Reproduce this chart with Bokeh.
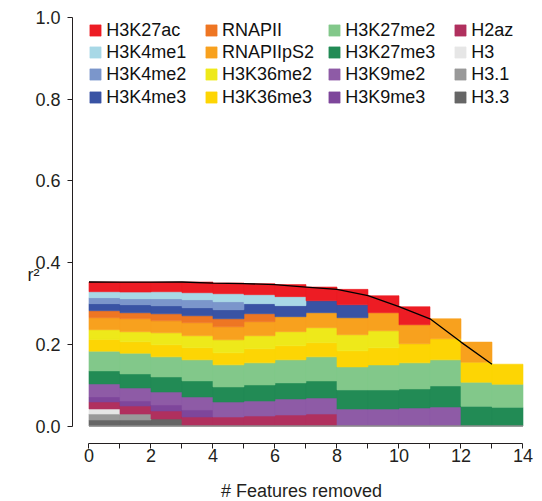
import numpy as np
from bokeh.plotting import figure
from bokeh.models import (ColumnDataSource, Legend, LegendItem, FixedTicker,
                          PrintfTickFormatter, Range1d)
from bokeh.embed import file_html
from bokeh.resources import INLINE

# ---------------- data ----------------
features_removed = list(range(14))          # left edge of each step (0..13)
x_ticks = [0, 2, 4, 6, 8, 10, 12, 14]
x_minor = [1, 3, 5, 7, 9, 11, 13]
y_ticks = [0.0, 0.2, 0.4, 0.6, 0.8, 1.0]

# stacked contributions to r^2, bottom -> top
h3_3      = [0.0147, 0.0147, 0.0172, 0, 0, 0, 0, 0, 0, 0, 0, 0, 0, 0]
h3_1      = [0.0147, 0.0147, 0, 0, 0, 0, 0, 0, 0, 0, 0, 0, 0, 0]
h3        = [0.0123, 0, 0, 0, 0, 0, 0, 0, 0, 0, 0, 0, 0, 0]
h2az      = [0.0172, 0.0196, 0.0196, 0.0221, 0.0221, 0.0245, 0.0270, 0.0294, 0, 0, 0, 0, 0, 0]
h3k9me3   = [0.0123, 0.0123, 0.0147, 0.0172, 0, 0, 0, 0, 0, 0, 0, 0, 0, 0]
h3k9me2   = [0.0319, 0.0319, 0.0319, 0.0319, 0.0368, 0.0368, 0.0393, 0.0393, 0.0417, 0.0417, 0.0442, 0.0466, 0, 0]
h3k27me3  = [0.0319, 0.0344, 0.0368, 0.0393, 0.0368, 0.0393, 0.0393, 0.0417, 0.0466, 0.0466, 0.0466, 0.0515, 0.0483, 0.0458]
h3k27me2  = [0.0483, 0.0507, 0.0491, 0.0515, 0.0540, 0.0540, 0.0564, 0.0589, 0.0564, 0.0613, 0.0638, 0.0638, 0.0589, 0.0564]
h3k36me3  = [0.0286, 0.0278, 0.0294, 0.0294, 0.0294, 0.0344, 0.0344, 0.0344, 0.0393, 0.0417, 0.0466, 0.0515, 0.0491, 0.0491]
h3k36me2  = [0.0237, 0.0245, 0.0294, 0.0294, 0.0319, 0.0319, 0.0344, 0.0368, 0.0393, 0.0417, 0, 0, 0, 0]
rnapiips2 = [0.0294, 0.0319, 0.0294, 0.0319, 0.0319, 0.0344, 0.0368, 0.0368, 0.0417, 0.0442, 0.0466, 0.0491, 0.0491, 0]
rnapii    = [0.0172, 0.0147, 0.0172, 0.0172, 0.0196, 0.0196, 0, 0, 0, 0, 0, 0, 0, 0]
h3k4me3   = [0.0172, 0.0196, 0.0196, 0.0196, 0.0221, 0.0245, 0.0270, 0.0294, 0.0319, 0, 0, 0, 0, 0]
h3k4me2   = [0.0147, 0.0147, 0.0172, 0.0196, 0.0196, 0, 0, 0, 0, 0, 0, 0, 0, 0]
h3k4me1   = [0.0147, 0.0164, 0.0172, 0.0172, 0.0196, 0.0221, 0.0221, 0, 0, 0, 0, 0, 0, 0]
h3k27ac   = [0.0237, 0.0245, 0.0237, 0.0262, 0.0262, 0.0270, 0.0294, 0.0335, 0.0376, 0.0417, 0.0442, 0, 0, 0]

layer_names = ["H3.3", "H3.1", "H3", "H2az", "H3K9me3", "H3K9me2", "H3K27me3", "H3K27me2",
               "H3K36me3", "H3K36me2", "RNAPIIpS2", "RNAPII", "H3K4me3", "H3K4me2", "H3K4me1", "H3K27ac"]
layer_values = [h3_3, h3_1, h3, h2az, h3k9me3, h3k9me2, h3k27me3, h3k27me2,
                h3k36me3, h3k36me2, rnapiips2, rnapii, h3k4me3, h3k4me2, h3k4me1, h3k27ac]
layer_colors = ["#666666", "#999999", "#E6E6E6", "#B0305E", "#7E469B", "#8E5BA6", "#228B55", "#82C88A",
                "#FDD504", "#EEE91A", "#F8A11E", "#EE7623", "#3953A4", "#7B96CB", "#A8D8E6", "#ED1C24"]

legend_columns = [["H3K27ac", "H3K4me1", "H3K4me2", "H3K4me3"],
                  ["RNAPII", "RNAPIIpS2", "H3K36me2", "H3K36me3"],
                  ["H3K27me2", "H3K27me3", "H3K9me2", "H3K9me3"],
                  ["H2az", "H3", "H3.1", "H3.3"]]

# ---------------- figure ----------------
FONT = "Liberation Sans"
INK = "#231F20"
FS = "18px"

p = figure(frame_width=458, frame_height=433, output_backend="svg", toolbar_location=None,
           x_range=Range1d(-0.532, 14.242), y_range=Range1d(-0.0428, 1.0171),
           min_border_left=72, min_border_right=12, min_border_top=10, min_border_bottom=58)
p.title.visible = False
p.xgrid.visible = False
p.ygrid.visible = False
p.outline_line_color = None

left = np.array(features_removed, dtype=float)
right = left + 1
bottom = np.zeros(len(left))
renderers = {}
for name, vals, col in zip(layer_names, layer_values, layer_colors):
    v = np.array(vals, dtype=float)
    top = bottom + v
    src = ColumnDataSource(dict(left=left, right=right, bottom=bottom.copy(), top=top,
                                la=np.where(v > 0, 1.0, 0.0)))
    r = p.quad(left="left", right="right", bottom="bottom", top="top", source=src,
               fill_color=col, line_color=col, line_width=0.6, line_alpha="la")
    renderers[name] = r
    bottom = top

totals = bottom
p.line(features_removed, totals, line_color="black", line_width=1.3)
p.line([features_removed[0], features_removed[-1] + 1], [0, 0], line_color="#8c8c8c", line_width=1.5)

# axes
xa = p.xaxis[0]
xa.ticker = FixedTicker(ticks=x_ticks, minor_ticks=x_minor)
xa.bounds = (0, 14)
ya = p.yaxis[0]
ya.ticker = FixedTicker(ticks=y_ticks)
ya.formatter = PrintfTickFormatter(format="%.1f")
ya.bounds = (0, 1)
for ax in (xa, ya):
    ax.axis_line_color = INK
    ax.axis_line_width = 1
    ax.major_tick_line_color = INK
    ax.minor_tick_line_color = INK
    ax.major_tick_in = 0
    ax.major_tick_out = 5
    ax.minor_tick_in = 0
    ax.major_label_text_font = FONT
    ax.major_label_text_font_size = FS
    ax.major_label_text_color = INK
    ax.axis_label_text_font = FONT
    ax.axis_label_text_font_size = FS
    ax.axis_label_text_color = INK
    ax.axis_label_text_font_style = "normal"
xa.minor_tick_out = 5
xa.major_label_standoff = 0
xa.axis_label = "# Features removed"
xa.axis_label_standoff = 16
ya.minor_tick_out = 0
ya.minor_tick_line_color = None
ya.major_label_standoff = 7
ya.axis_label = "\n\n\n\nr²"
ya.axis_label_orientation = "horizontal"
ya.axis_label_standoff = -7

# legend: 4 columns x 4 rows, one single-entry legend per cell
col_offsets = [16.3, 132, 255.3, 381.3]
row_offsets = [402, 380, 358, 335]
for names, dx in zip(legend_columns, col_offsets):
    for n, dy in zip(names, row_offsets):
        leg = Legend(items=[LegendItem(label=n, renderers=[renderers[n]])],
                     location=(dx, dy), orientation="vertical",
                     glyph_width=14, glyph_height=14, label_height=22, label_standoff=4,
                     spacing=0, padding=0, margin=0,
                     label_text_font=FONT, label_text_font_size=FS, label_text_color="#111111",
                     border_line_color=None, background_fill_alpha=0)
        p.add_layout(leg)

open("out.html", "w").write(file_html(p, INLINE))
